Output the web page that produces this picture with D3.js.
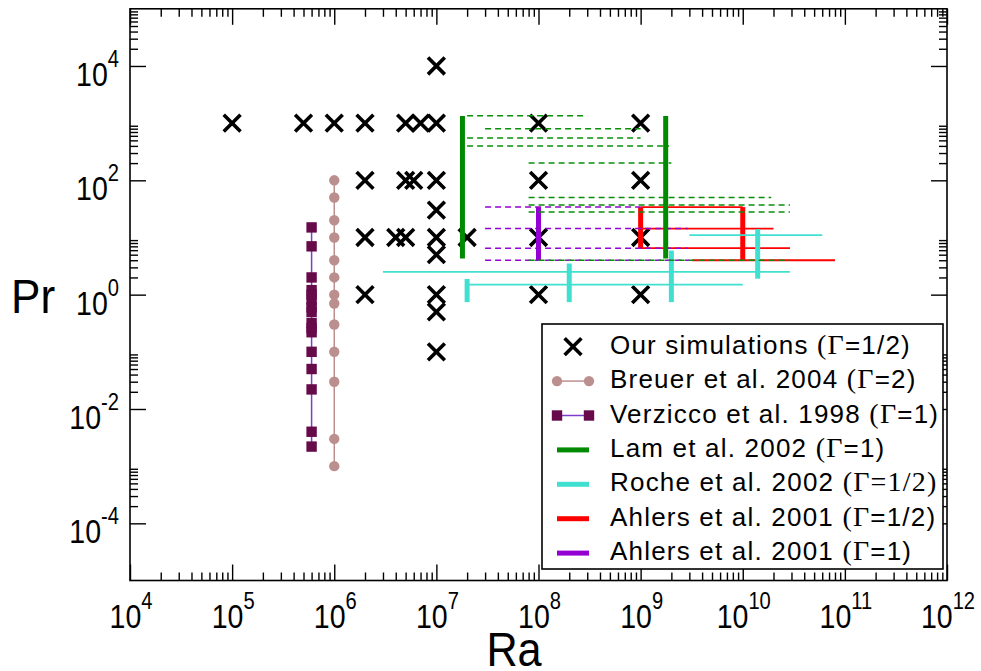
<!DOCTYPE html>
<html><head><meta charset="utf-8">
<script src="https://cdn.jsdelivr.net/npm/d3@7"></script>
<style>body{margin:0;background:#fff} svg{display:block}</style>
</head><body>
<svg id="chart" width="981" height="671"></svg>
<script>
// ---------------- DATA ----------------
// Our simulations (Gamma = 1/2): [Ra, Pr]
const oursPoints = [
  [1e5,1000],[5e5,1000],[1e6,1000],[2e6,1000],[5e6,1000],[7e6,1000],[1e7,1000],
  [2e6,100],[5e6,100],[6e6,100],[1e7,100],
  [1e7,30],
  [2e6,10],[4e6,10],[5e6,10],[1e7,10],[2e7,10],
  [1e7,5],
  [2e6,1],[1e7,1],[1e7,0.5],[1e7,0.1],[1e7,1e4],
  [1e8,1000],[1e8,100],[1e8,10],[1e8,1],
  [1e9,1000],[1e9,100],[1e9,10],[1e9,1]
];
// Breuer et al. 2004 (Gamma = 2)
const breuerRa = 1e6;
const breuerPr = [100,50,20,10,4,2,1,0.7,0.3,0.1,0.03,0.003,0.001];
// Verzicco et al. 1998 (Gamma = 1)
const verziccoRa = 6e5;
const verziccoPr = [15,7,2,1.2,1,0.8,0.6,0.5,0.32,0.26,0.22,0.1,0.05,0.022,0.004,0.0022];
// Lam et al. 2002 (Gamma = 1): vertical ranges [Ra, PrMin, PrMax], dashed ranges [Pr, RaMin, RaMax]
const lamVertical = [[1.8e7,4.3,1330],[1.76e9,4.3,1330]];
const lamDashed = [[1350,2e7,3e8],[800,3e7,1e9],[550,2e7,1e9],[400,2e7,1.9e9],[200,8e7,2e9],
                   [50,8e7,1.9e10],[37,8e7,2.9e10],[28,8e7,2.9e10],[4,8e7,2.9e10]];
// Roche et al. 2002 (Gamma = 1/2)
const rocheHorizontal = [[2.5,3e6,2.9e10],[1.5,2e7,1e10],[11,3e9,6e10]];
const rocheVertical = [[2e7,0.74,1.88],[2e8,0.74,3.5],[2e9,0.74,5.9],[1.4e10,1.9,14]];
// Ahlers et al. 2001 (Gamma = 1/2)
const ahlersHalfVertical = [[1e9,6.5,34],[1e10,4,34]];
const ahlersHalfHorizontal = [[34,1e9,1e10],[14.3,1e9,2e10],[6.5,1e9,2.9e10],[4,3.2e9,8e10]];
// Ahlers et al. 2001 (Gamma = 1)
const ahlersOneVertical = [[1e8,4,34]];
const ahlersOneDashed = [[34,3e7,1e9],[14.3,3e7,2.9e9],[6.5,3e7,2.9e9],[4,3e7,3e9]];
// axis ticks
const xMajorExp = [4,5,6,7,8,9,10,11,12];
const yMajorExp = [-4,-2,0,2,4];
const minorMult = [2,3,4,5,6,7,8,9];
// legend
const legendLabels = [
  ["Our simulations ","(","Γ","=1/2)"],
  ["Breuer et al. 2004 ","(","Γ","=2)"],
  ["Verzicco et al. 1998 ","(","Γ","=1)"],
  ["Lam et al. 2002 ","(","Γ","=1)"],
  ["Roche et al. 2002 ","(","Γ","=1/2)"],
  ["Ahlers et al. 2001 ","(","Γ","=1/2)"],
  ["Ahlers et al. 2001 ","(","Γ","=1)"]
];

// ---------------- COLORS ----------------
const C = {
  breuer:"#bc8f8f", verzSq:"#660a4a", verzLine:"#7d3ccc",
  lam:"#008a00", lamDash:"#0a8f0a", roche:"#40e0d0", red:"#ff0000", violet:"#9400d3"
};

// ---------------- SCALES ----------------
const x = d3.scaleLog().domain([1e4,1e12]).range([130,947]);
const y = d3.scaleLog().domain([1e-5,1e5]).range([580.5,8.8]);
const svg = d3.select("#chart");
const SANS = "'Liberation Sans', Arial, Helvetica, sans-serif";
const SERIF = "'Liberation Serif', 'Times New Roman', serif";

// ---------------- AXES ----------------
const xMajor = xMajorExp.map(e => Math.pow(10,e));
const xMinor = [];
for (let k=4;k<12;k++) minorMult.forEach(m => xMinor.push(m*Math.pow(10,k)));
const yMajor = yMajorExp.map(e => Math.pow(10,e));
const yMinor = [];
[-4,-2,0,2,4].forEach(k => minorMult.forEach(m => yMinor.push(m*Math.pow(10,k))));

function drawAxis(axisGen, vals, size, tr){
  const g = svg.append("g").attr("transform", tr)
    .call(axisGen.tickValues(vals).tickSize(size).tickFormat(""));
  g.select(".domain").remove();
  g.selectAll("line").attr("stroke","#000").attr("stroke-width",1.4);
}
const yb = y.range()[0], yt = y.range()[1], xl = x.range()[0], xr = x.range()[1];
drawAxis(d3.axisBottom(x), xMajor, -16, `translate(0,${yb})`);
drawAxis(d3.axisBottom(x), xMinor, -8, `translate(0,${yb})`);
drawAxis(d3.axisTop(x), xMajor, -16, `translate(0,${yt})`);
drawAxis(d3.axisTop(x), xMinor, -8, `translate(0,${yt})`);
drawAxis(d3.axisLeft(y), yMajor, -16, `translate(${xl},0)`);
drawAxis(d3.axisLeft(y), yMinor, -8, `translate(${xl},0)`);
drawAxis(d3.axisRight(y), yMajor, -16, `translate(${xr},0)`);
drawAxis(d3.axisRight(y), yMinor, -8, `translate(${xr},0)`);

svg.append("rect").attr("x",xl).attr("y",yt).attr("width",xr-xl).attr("height",yb-yt)
  .attr("fill","none").attr("stroke","#000").attr("stroke-width",1.6);

// tick labels (condensed Helvetica look)
const SX = 0.84;
function powLabel(px, py, anchor, e){
  const g = svg.append("g").attr("transform",`translate(${px},${py}) scale(${SX},1)`);
  const t = g.append("text").attr("text-anchor",anchor).attr("font-family",SANS).attr("font-size",34);
  t.append("tspan").text("10");
  t.append("tspan").attr("dy",-19).attr("font-size",24).text(e);
}
xMajorExp.forEach(e => powLabel(x(Math.pow(10,e))+1, 628, "middle", e));
yMajorExp.forEach(e => powLabel(119, y(Math.pow(10,e))+20, "end", e));

// axis titles
svg.append("g").attr("transform","translate(11,313) scale(0.9,1)")
  .append("text").attr("font-family",SANS).attr("font-size",49).text("Pr");
svg.append("g").attr("transform","translate(514,666) scale(0.9,1)")
  .append("text").attr("text-anchor","middle").attr("font-family",SANS).attr("font-size",48).text("Ra");

// ---------------- MARKS ----------------
const xType = { draw(ctx, size){ const r=Math.sqrt(size)/2; ctx.moveTo(-r,-r); ctx.lineTo(r,r); ctx.moveTo(-r,r); ctx.lineTo(r,-r);} };
const crossPath = d3.symbol().type(xType).size(282);

// our simulations
svg.append("g").selectAll("path").data(oursPoints).join("path")
  .attr("transform", d => `translate(${x(d[0])},${y(d[1])})`)
  .attr("d", crossPath()).attr("fill","none").attr("stroke","#000").attr("stroke-width",3.6);

// Breuer
const gB = svg.append("g");
gB.append("line").attr("x1",x(breuerRa)).attr("x2",x(breuerRa))
  .attr("y1",y(d3.max(breuerPr))).attr("y2",y(d3.min(breuerPr)))
  .attr("stroke",C.breuer).attr("stroke-width",1.5);
gB.selectAll("circle").data(breuerPr).join("circle")
  .attr("cx",x(breuerRa)).attr("cy",d=>y(d)).attr("r",5.2).attr("fill",C.breuer);

// Verzicco
const gV = svg.append("g");
gV.append("line").attr("x1",x(verziccoRa)).attr("x2",x(verziccoRa))
  .attr("y1",y(d3.max(verziccoPr))).attr("y2",y(d3.min(verziccoPr)))
  .attr("stroke",C.verzLine).attr("stroke-width",1.5);
gV.selectAll("rect").data(verziccoPr).join("rect")
  .attr("x",x(verziccoRa)-5.2).attr("y",d=>y(d)-5.2).attr("width",10.4).attr("height",10.4).attr("fill",C.verzSq);

function hLines(g, data, color, w, dash){
  g.selectAll(null).data(data).join("line")
    .attr("x1",d=>x(d[1])).attr("x2",d=>x(d[2])).attr("y1",d=>y(d[0])).attr("y2",d=>y(d[0]))
    .attr("stroke",color).attr("stroke-width",w).attr("stroke-dasharray",dash||null);
}
function vLines(g, data, color, w){
  g.selectAll(null).data(data).join("line")
    .attr("x1",d=>x(d[0])).attr("x2",d=>x(d[0])).attr("y1",d=>y(d[2])).attr("y2",d=>y(d[1]))
    .attr("stroke",color).attr("stroke-width",w);
}
// Ahlers Gamma=1/2 (red)
const gR = svg.append("g");
hLines(gR, ahlersHalfHorizontal, C.red, 1.8);
// Roche (turquoise)
const gC = svg.append("g");
hLines(gC, rocheHorizontal, C.roche, 1.8);
vLines(gC, rocheVertical, C.roche, 5);
vLines(gR, ahlersHalfVertical, C.red, 5);
// Ahlers Gamma=1 (violet)
const gP = svg.append("g");
hLines(gP, ahlersOneDashed, C.violet, 1.5, "6,4");
vLines(gP, ahlersOneVertical, C.violet, 5);
// Lam (green)
const gL = svg.append("g");
hLines(gL, lamDashed, C.lamDash, 1.5, "6,4");
vLines(gL, lamVertical, C.lam, 5);

// ---------------- LEGEND ----------------
const lg = svg.append("g");
lg.append("rect").attr("x",542).attr("y",324).attr("width",401).attr("height",245)
  .attr("fill","#fff").attr("stroke","#000").attr("stroke-width",1.6);
const rowY = i => 346.7 + i*34.4;
const lx1 = 557, lx2 = 589, lxm = 573;
lg.append("path").attr("transform",`translate(${lxm},${rowY(0)})`).attr("d",crossPath())
  .attr("fill","none").attr("stroke","#000").attr("stroke-width",3.6);
lg.append("line").attr("x1",lx1).attr("x2",lx2).attr("y1",rowY(1)).attr("y2",rowY(1)).attr("stroke",C.breuer).attr("stroke-width",1.5);
[lx1,lx2].forEach(cx => lg.append("circle").attr("cx",cx).attr("cy",rowY(1)).attr("r",5.2).attr("fill",C.breuer));
lg.append("line").attr("x1",lx1).attr("x2",lx2).attr("y1",rowY(2)).attr("y2",rowY(2)).attr("stroke",C.verzLine).attr("stroke-width",1.5);
[lx1,lx2].forEach(cx => lg.append("rect").attr("x",cx-5.2).attr("y",rowY(2)-5.2).attr("width",10.4).attr("height",10.4).attr("fill",C.verzSq));
[[3,C.lam],[4,C.roche],[5,C.red],[6,C.violet]].forEach(([i,c]) =>
  lg.append("line").attr("x1",lx1).attr("x2",lx2).attr("y1",rowY(i)).attr("y2",rowY(i)).attr("stroke",c).attr("stroke-width",5));
legendLabels.forEach((parts,i) => {
  const t = lg.append("text").attr("x",610).attr("y",rowY(i)+7).attr("font-family",SANS)
    .attr("font-size",26).attr("letter-spacing",1.2);
  t.append("tspan").text(parts[0]);
  t.append("tspan").attr("font-family",SERIF).attr("font-size",28).text(parts[1]);
  t.append("tspan").attr("font-family",SERIF).attr("font-size",28).text(parts[2]);
  t.append("tspan").attr("font-family", i===4 ? SERIF : SANS).attr("font-size", i===4 ? 28 : 26).text(parts[3]);
});
</script>
</body></html>
